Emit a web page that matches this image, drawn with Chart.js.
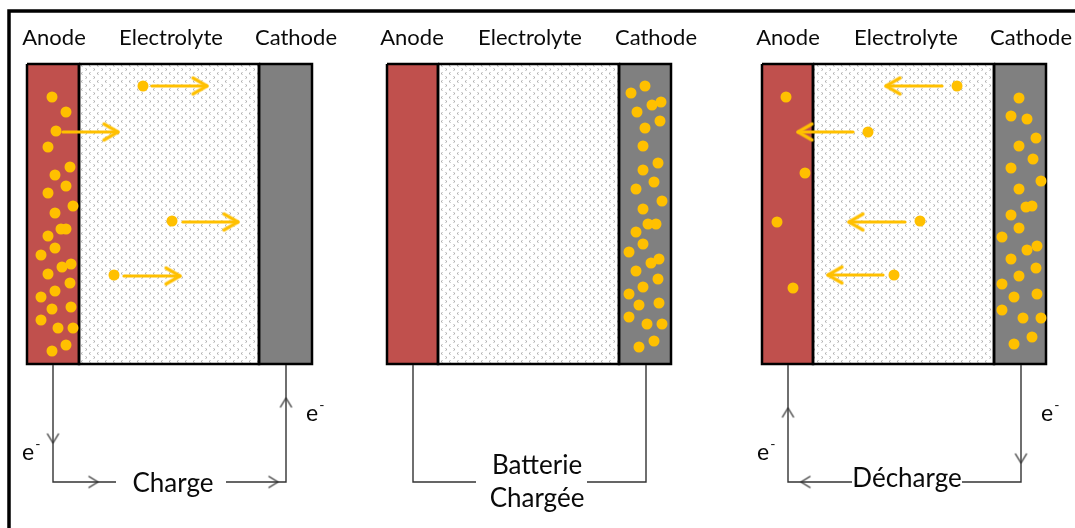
<!DOCTYPE html>
<html>
<head>
<meta charset="utf-8">
<script src="https://cdn.jsdelivr.net/npm/chart.js@4.4.0/dist/chart.umd.min.js"></script>
<style>
  html, body { margin: 0; padding: 0; background: #fff; }
  canvas { display: block; }
</style>
</head>
<body>
<canvas id="schema" width="1075" height="528"></canvas>
<script>
// Cellules : bornes horizontales de chaque couche (3 états)
const cellTop = 64, cellBottom = 364;
const anodeX = [[27, 79], [387, 438], [762, 813]];
const electrolyteX = [[79, 259], [438, 619], [813, 994]];
const cathodeX = [[259, 312], [619, 671], [994, 1046]];

// Ions Li+ (points jaunes)
const ionsAnode1 = [[52,97],[66,112],[56,131],[48,147],[70,167],[55,175],[66,186],[48,193],[73,206],[55,213],
  [61,229],[66,229],[48,236],[55,248],[41,255],[62,267],[71,264],[48,274],[70,283],[55,291],[41,297],[52,309],
  [71,307],[41,320],[58,328],[73,328],[52,351],[66,345]];
const ionsCathode2 = [[631,93],[645,86],[652,105],[661,102],[637,112],[660,121],[645,128],[643,146],[658,163],
  [643,170],[654,182],[636,189],[662,201],[643,209],[648,224],[656,224],[636,232],[643,244],[629,252],[651,263],
  [659,259],[636,271],[658,279],[643,287],[629,294],[639,305],[659,303],[629,317],[647,324],[662,324],[639,347],[654,341]];
const ionsAnode3 = [[786,97],[805,173],[777,222],[793,288]];
const ionsCathode3 = [[1019,98],[1011,116],[1027,119],[1036,138],[1019,146],[1033,159],[1011,168],[1041,181],
  [1019,189],[1026,207],[1032,206],[1011,215],[1019,228],[1002,237],[1027,250],[1037,246],[1011,259],[1036,268],
  [1019,276],[1002,284],[1014,297],[1037,294],[1002,310],[1023,318],[1041,318],[1014,344],[1032,337]];
const ionsMoving = [[143,86],[172,221],[114,275],[957,86],[868,132],[920,221],[894,275]];

// Flèches jaunes : [x départ, y, x arrivée]
const ionArrows = [[152,86,207],[63,132,118],[183,222,238],[124,276,180],
  [942,86,886],[853,132,798],[905,222,849],[883,275,828]];

// Circuit externe
const wires = [
  [[53,365],[53,482],[116,482]], [[226,482],[286,482],[286,365]],
  [[413,365],[413,482],[476,482]], [[587,482],[646,482],[646,365]],
  [[788,365],[788,482],[852,482]], [[962,482],[1021,482],[1021,365]]
];
const wireArrowX = [53, 98, 278, 286, 788, 801, 1021];
const wireArrowY = [443, 482, 482, 398, 408, 482, 463];
const wireArrowAngle = [90, 0, 0, -90, -90, 180, 90];

// Textes
const headLabels = ['Anode', 'Electrolyte', 'Cathode'];
const headLabelX = [[54, 171, 296], [412, 530, 656], [788, 906, 1031]];
const headLabelY = 45;
const circuitLabels = [['Charge', 173, 492], ['Batterie', 537, 474], ['Chargée', 537, 507], ['Décharge', 907, 487]];
const electronLabels = [[22, 460], [306, 421], [757, 460], [1041, 421]];

const frame = [[9, 528], [9, 11], [1075, 11]];

function pts(list) { return list.map(p => ({ x: p[0], y: p[1] })); }

function makePattern() {
  const c = document.createElement('canvas');
  c.width = 8; c.height = 8;
  const g = c.getContext('2d');
  g.fillStyle = '#fff';
  g.fillRect(0, 0, 8, 8);
  g.strokeStyle = '#a8a8a8';
  g.lineWidth = 1;
  g.beginPath();
  g.moveTo(2.5, 0.5); g.lineTo(1, 1.5); g.lineTo(2.5, 2.5);
  g.moveTo(5.5, 4.5); g.lineTo(7, 5.5); g.lineTo(5.5, 6.5);
  g.stroke();
  return g.createPattern(c, 'repeat');
}

function makeChevron(len, half, lw, color) {
  const s = Math.ceil(2 * (len + lw + 2));
  const c = document.createElement('canvas');
  c.width = s; c.height = s;
  const g = c.getContext('2d');
  g.translate(s / 2, s / 2);
  g.strokeStyle = color;
  g.lineWidth = lw;
  g.lineCap = 'round';
  g.lineJoin = 'round';
  g.beginPath();
  g.moveTo(-len, -half); g.lineTo(0, 0); g.lineTo(-len, half);
  g.stroke();
  return c;
}

function dessiner() {
  const pattern = makePattern();
  const ionHead = makeChevron(14, 8, 3.2, '#FFC000');
  const wireHead = makeChevron(9, 5.5, 1.4, '#333');
  const datasets = [];

  const couches = [[anodeX, '#C0504D'], [electrolyteX, pattern], [cathodeX, '#808080']];
  couches.forEach(([xs, color]) => {
    xs.forEach(([x0, x1]) => {
      datasets.push({
        data: pts([[x0, cellTop], [x1, cellTop]]),
        borderWidth: 0, pointRadius: 0, backgroundColor: color,
        fill: { value: cellBottom }, order: 9
      });
      datasets.push({
        data: pts([[x0, cellTop], [x1, cellTop], [x1, cellBottom], [x0, cellBottom], [x0, cellTop]]),
        borderColor: '#000', borderWidth: 2.5, pointRadius: 0, fill: false,
        borderJoinStyle: 'miter', order: 8
      });
    });
  });

  wires.forEach(w => {
    datasets.push({
      data: pts(w), borderColor: '#333', borderWidth: 1.4, pointRadius: 0,
      fill: false, order: 7
    });
  });
  datasets.push({
    data: wireArrowX.map((x, i) => ({ x, y: wireArrowY[i] })),
    showLine: false, pointStyle: wireHead, pointRotation: wireArrowAngle, order: 6
  });

  datasets.push({
    data: pts(frame), borderColor: '#000', borderWidth: 3.5, pointRadius: 0,
    fill: false, borderJoinStyle: 'miter', order: 7
  });

  [ionsAnode1, ionsCathode2, ionsAnode3, ionsCathode3, ionsMoving].forEach(list => {
    datasets.push({
      data: pts(list), showLine: false, pointRadius: 5.5, pointBorderWidth: 0,
      pointBackgroundColor: '#FFC000', order: 5
    });
  });

  ionArrows.forEach(([x0, y, x1]) => {
    datasets.push({
      data: pts([[x0, y], [x1, y]]), borderColor: '#FFC000', borderWidth: 3.2,
      borderCapStyle: 'round', pointRadius: 0, fill: false, order: 4
    });
  });
  datasets.push({
    data: ionArrows.map(a => ({ x: a[2], y: a[1] })),
    showLine: false, pointStyle: ionHead,
    pointRotation: ionArrows.map(a => (a[2] > a[0] ? 0 : 180)), order: 3
  });

  const textes = {
    id: 'textes',
    afterDatasetsDraw(chart) {
      const { ctx, scales: { x, y } } = chart;
      ctx.save();
      ctx.fillStyle = '#0a0a0a';
      ctx.textBaseline = 'alphabetic';
      ctx.font = '22px Lato';
      ctx.textAlign = 'center';
      headLabelX.forEach(row => row.forEach((cx, i) => {
        ctx.fillText(headLabels[i], x.getPixelForValue(cx), y.getPixelForValue(headLabelY));
      }));
      ctx.font = '26px Lato';
      circuitLabels.forEach(([t, cx, cy]) => {
        ctx.fillText(t, x.getPixelForValue(cx), y.getPixelForValue(cy));
      });
      ctx.textAlign = 'left';
      electronLabels.forEach(([ex, ey]) => {
        const px = x.getPixelForValue(ex), py = y.getPixelForValue(ey);
        ctx.font = '23px Lato';
        ctx.fillText('e', px, py);
        const w = ctx.measureText('e').width;
        ctx.font = '14px Lato';
        ctx.fillText('-', px + w + 1, py - 11);
      });
      ctx.restore();
    }
  };

  new Chart(document.getElementById('schema'), {
    type: 'line',
    data: { datasets },
    options: {
      responsive: false,
      animation: false,
      events: [],
      layout: { padding: 0, autoPadding: false },
      elements: { line: { tension: 0 } },
      plugins: { legend: { display: false }, tooltip: { enabled: false } },
      scales: {
        x: { type: 'linear', min: 0, max: 1075, display: false },
        y: { type: 'linear', min: 0, max: 528, reverse: true, display: false }
      }
    },
    plugins: [textes]
  });
}

document.fonts.load('22px Lato').then(dessiner, dessiner);
</script>
</body>
</html>
